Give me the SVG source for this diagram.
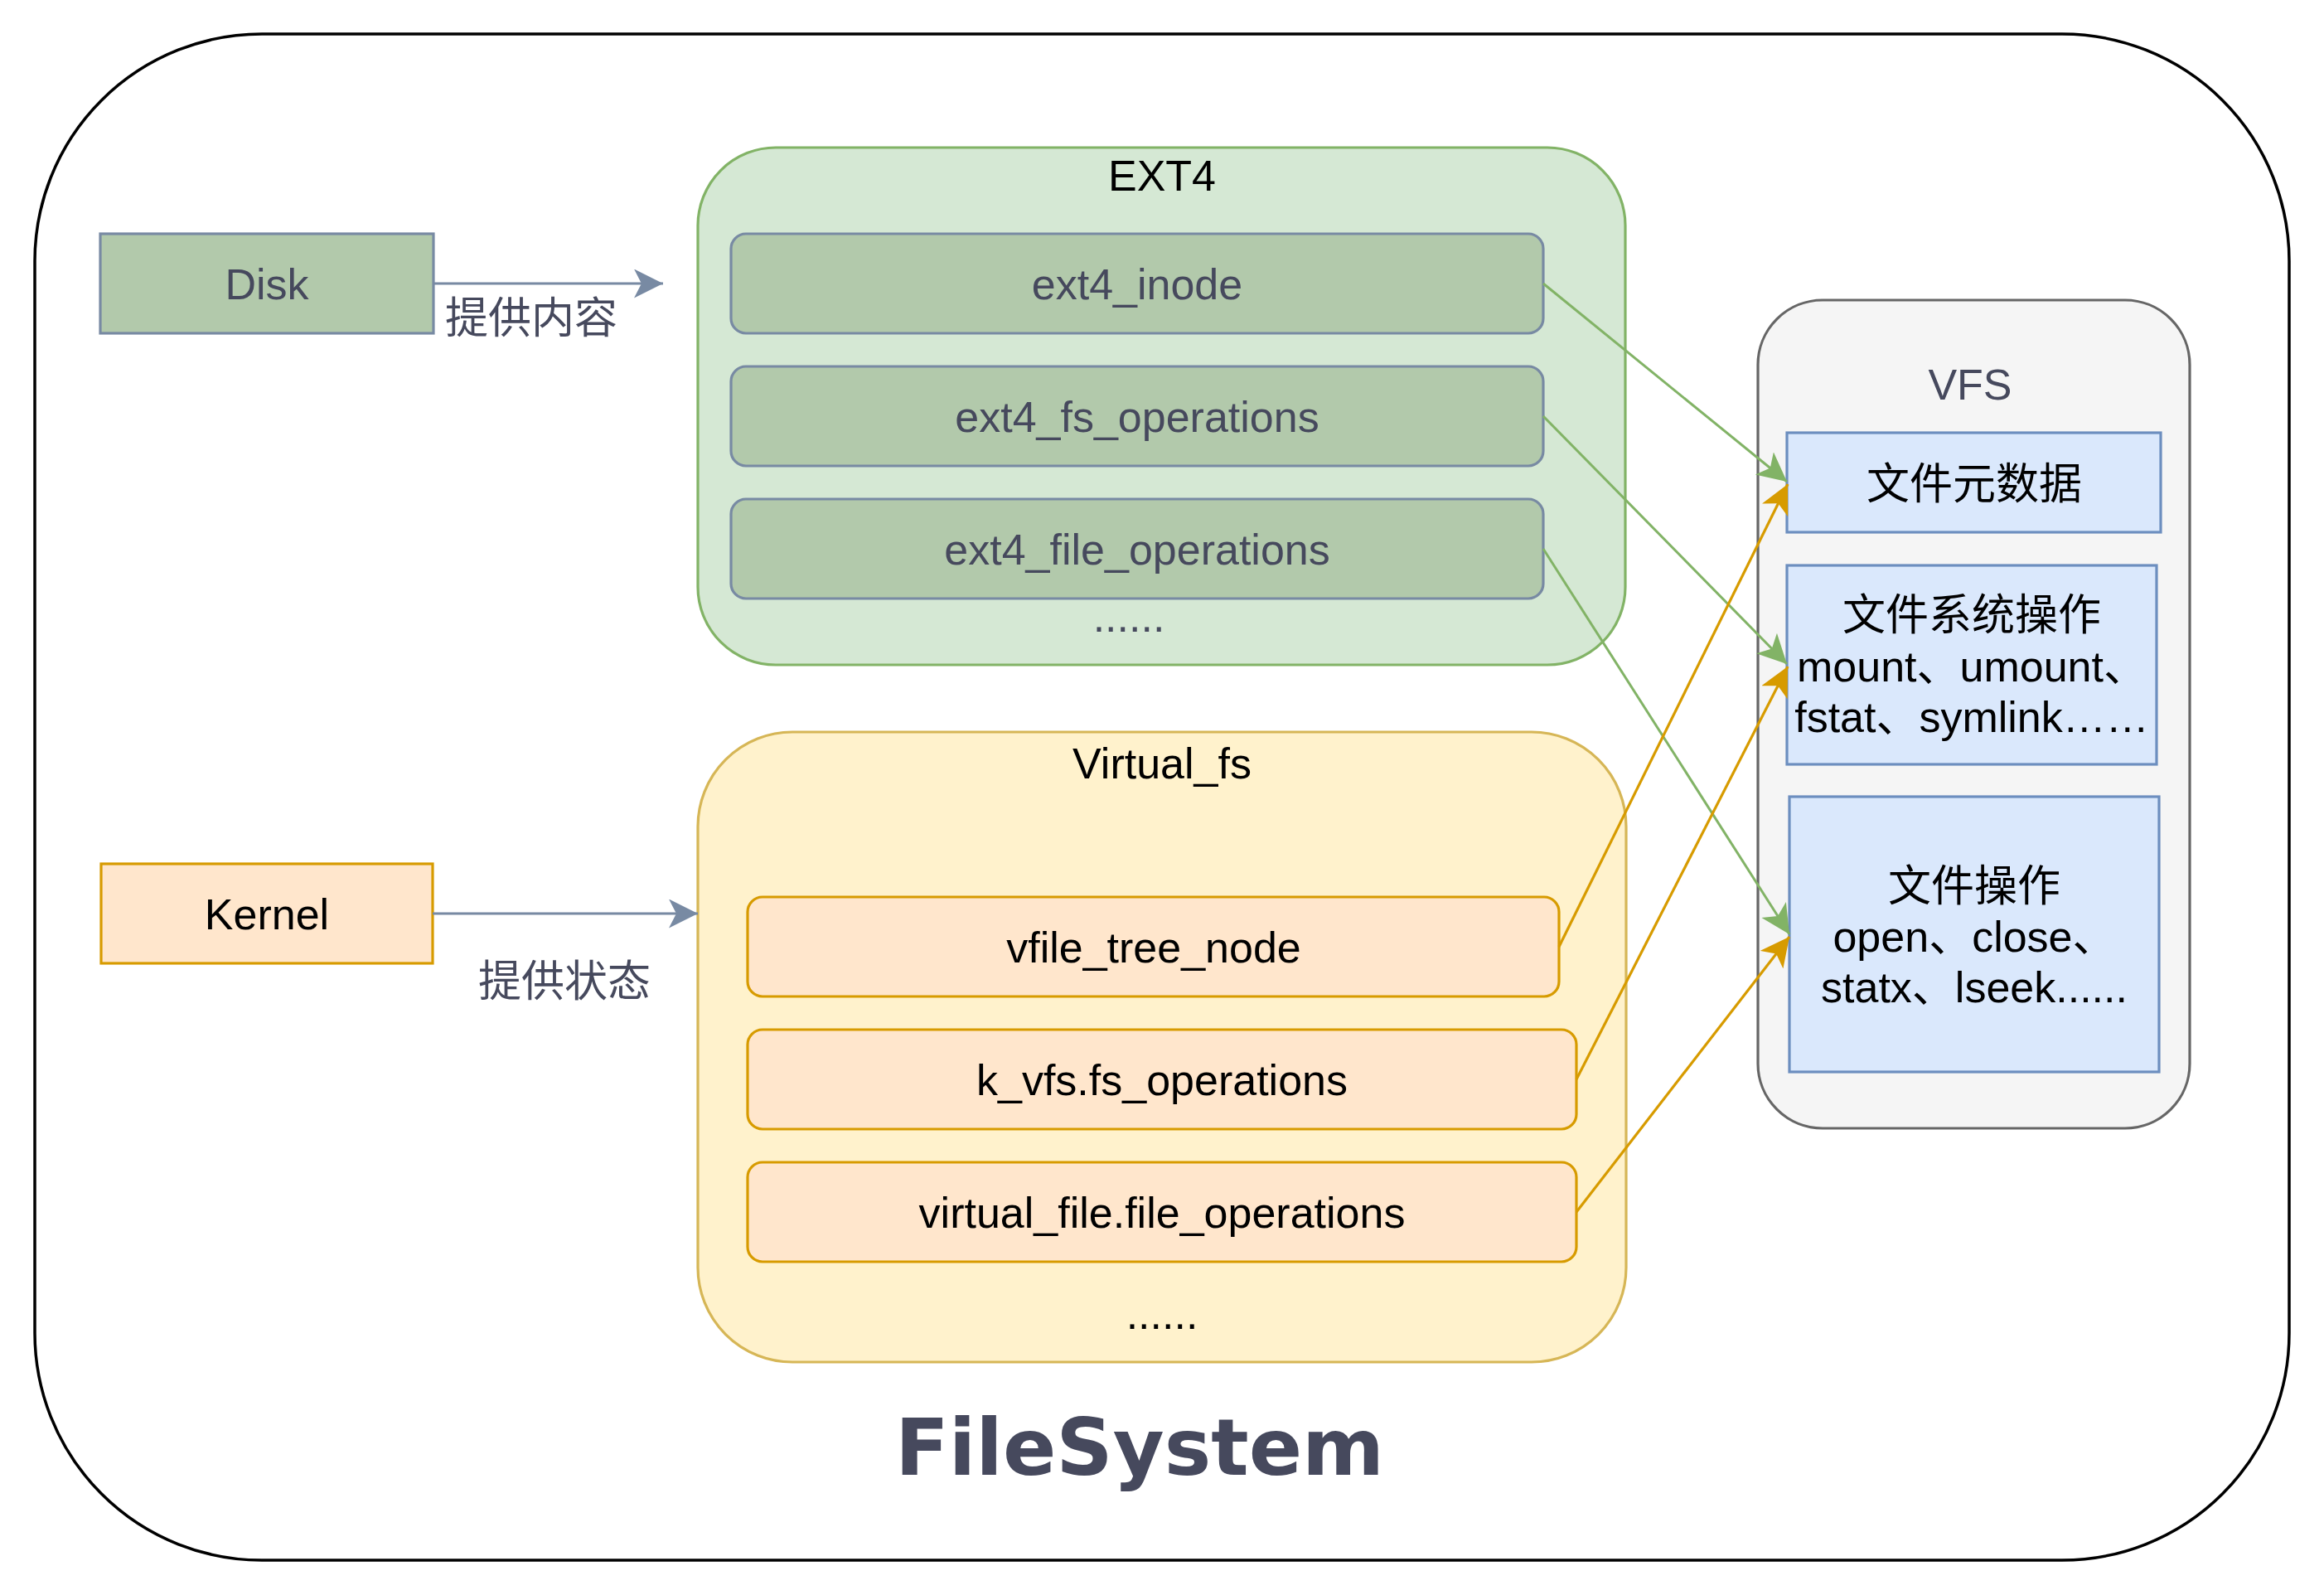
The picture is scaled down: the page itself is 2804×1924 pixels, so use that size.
<svg xmlns="http://www.w3.org/2000/svg" width="2804" height="1924" viewBox="0 0 2804 1924">
  <style>
    text { font-family: 'Liberation Sans', 'Noto Sans CJK SC', sans-serif; font-size: 52px; text-anchor: middle; }
    .slate { fill: #46495D; }
    .blk { fill: #000000; }
    .title { font-family: 'DejaVu Sans', 'Liberation Sans', sans-serif; font-weight: bold; font-size: 95px; fill: #46495D; }
    .frame { fill: #FFFFFF; stroke: #000000; stroke-width: 3.5; }
    .greenBox { fill: #D5E8D4; stroke: #82B366; stroke-width: 3.2; }
    .sageBox { fill: #B2C9AB; stroke: #788AA3; stroke-width: 3.2; }
    .yellowBox { fill: #FFF2CC; stroke: #D6B656; stroke-width: 3.2; }
    .orangeBox { fill: #FFE6CC; stroke: #D79B00; stroke-width: 3.2; }
    .greyBox { fill: #F5F5F5; stroke: #666666; stroke-width: 3.2; }
    .blueBox { fill: #DAE8FC; stroke: #6C8EBF; stroke-width: 3.2; }
    .cSlate { stroke: #788AA3; stroke-width: 3.2; fill: none; marker-end: url(#arrSlate); }
    .cGreen { stroke: #82B366; stroke-width: 3; fill: none; marker-end: url(#arrGreen); }
    .cOrange { stroke: #D79B00; stroke-width: 3.2; fill: none; marker-end: url(#arrOrange); }
  </style>
  <defs>
    <marker id="arrSlate" markerUnits="userSpaceOnUse" markerWidth="36" markerHeight="36" refX="35" refY="17.5" orient="auto" viewBox="0 0 36 36">
      <path d="M0,0 L35,17.5 L0,35 L9,17.5 Z" fill="#788AA3"/>
    </marker>
    <marker id="arrGreen" markerUnits="userSpaceOnUse" markerWidth="36" markerHeight="36" refX="35" refY="17.5" orient="auto" viewBox="0 0 36 36">
      <path d="M0,0 L35,17.5 L0,35 L9,17.5 Z" fill="#82B366"/>
    </marker>
    <marker id="arrOrange" markerUnits="userSpaceOnUse" markerWidth="36" markerHeight="36" refX="35" refY="17.5" orient="auto" viewBox="0 0 36 36">
      <path d="M0,0 L35,17.5 L0,35 L9,17.5 Z" fill="#D79B00"/>
    </marker>
  </defs>

  <rect width="2804" height="1924" fill="#FFFFFF"/>

  <g id="filesystem">
    <rect class="frame" x="42" y="41" width="2720" height="1841" rx="274" ry="274"/>
    <text class="title" x="1375" y="1779">FileSystem</text>
  </g>

  <g id="disk">
    <rect class="sageBox" x="121" y="282" width="402" height="120"/>
    <text class="slate" x="322" y="361">Disk</text>
  </g>

  <g id="kernel">
    <rect class="orangeBox" x="122" y="1042" width="400" height="120"/>
    <text class="blk" x="322" y="1121">Kernel</text>
  </g>

  <g id="ext4">
    <rect class="greenBox" x="842" y="178" width="1119" height="624" rx="94" ry="94"/>
    <text class="blk" x="1402" y="230">EXT4</text>
    <text class="slate" x="1362" y="762">......</text>
  </g>
  <g id="ext4_inode">
    <rect class="sageBox" x="882" y="282" width="980" height="120" rx="18" ry="18"/>
    <text class="slate" x="1372" y="361">ext4_inode</text>
  </g>
  <g id="ext4_fs_operations">
    <rect class="sageBox" x="882" y="442" width="980" height="120" rx="18" ry="18"/>
    <text class="slate" x="1372" y="521">ext4_fs_operations</text>
  </g>
  <g id="ext4_file_operations">
    <rect class="sageBox" x="882" y="602" width="980" height="120" rx="18" ry="18"/>
    <text class="slate" x="1372" y="681">ext4_file_operations</text>
  </g>

  <g id="virtual_fs">
    <rect class="yellowBox" x="842" y="883" width="1120" height="760" rx="114" ry="114"/>
    <text class="blk" x="1402" y="939">Virtual_fs</text>
    <text class="blk" x="1402" y="1603">......</text>
  </g>
  <g id="vfile_tree_node">
    <rect class="orangeBox" x="902" y="1082" width="979" height="120" rx="18" ry="18"/>
    <text class="blk" x="1392" y="1161">vfile_tree_node</text>
  </g>
  <g id="k_vfs_fs_operations">
    <rect class="orangeBox" x="902" y="1242" width="1000" height="120" rx="18" ry="18"/>
    <text class="blk" x="1402" y="1321">k_vfs.fs_operations</text>
  </g>
  <g id="virtual_file_file_operations">
    <rect class="orangeBox" x="902" y="1402" width="1000" height="120" rx="18" ry="18"/>
    <text class="blk" x="1402" y="1481">virtual_file.file_operations</text>
  </g>

  <g id="vfs">
    <rect class="greyBox" x="2121" y="362" width="521" height="999" rx="78" ry="78"/>
    <text class="slate" x="2377" y="482">VFS</text>
  </g>
  <g id="vfs_metadata">
    <rect class="blueBox" x="2156" y="522" width="451" height="120"/>
    <text class="blk" x="2382" y="602">文件元数据</text>
  </g>
  <g id="vfs_fs_ops">
    <rect class="blueBox" x="2156" y="682" width="446" height="240"/>
    <text class="blk" x="2379" y="760">文件系统操作</text>
    <text class="blk" x="2379" y="822">mount、umount、</text>
    <text class="blk" x="2379" y="883">fstat、symlink……</text>
  </g>
  <g id="vfs_file_ops">
    <rect class="blueBox" x="2159" y="961" width="446" height="332"/>
    <text class="blk" x="2382" y="1087">文件操作</text>
    <text class="blk" x="2382" y="1148">open、close、</text>
    <text class="blk" x="2382" y="1209">statx、lseek......</text>
  </g>

  <g id="connectors">
    <line class="cSlate" x1="523" y1="342" x2="800" y2="342"/>
    <text class="slate" x="641" y="402">提供内容</text>
    <line class="cSlate" x1="522" y1="1102" x2="842" y2="1102"/>
    <text class="slate" x="681" y="1202">提供状态</text>

    <line class="cGreen" x1="1862" y1="342" x2="2156" y2="581"/>
    <line class="cGreen" x1="1862" y1="502" x2="2156" y2="801"/>
    <line class="cGreen" x1="1862" y1="662" x2="2159" y2="1127"/>

    <line class="cOrange" x1="1881" y1="1142" x2="2157" y2="584"/>
    <line class="cOrange" x1="1902" y1="1302" x2="2157" y2="804"/>
    <line class="cOrange" x1="1902" y1="1462" x2="2159" y2="1130"/>
  </g>
</svg>
